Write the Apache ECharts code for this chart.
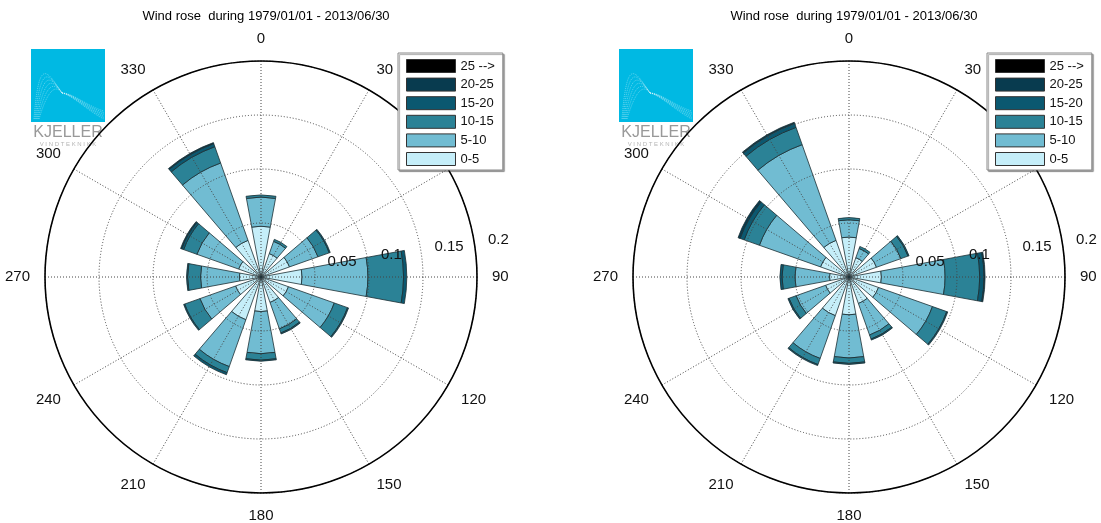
<!DOCTYPE html>
<html>
<head>
<meta charset="utf-8">
<script src="https://cdn.jsdelivr.net/npm/echarts@6/dist/echarts.min.js"></script>
<style>
html, body { margin: 0; padding: 0; background: #fff; }
#main { width: 1101px; height: 523px; }
</style>
</head>
<body>
<div id="main"></div>
<script>
// wind direction sectors (deg) and speed bins (m/s)
var directions = ['0', '30', '60', '90', '120', '150', '180', '210', '240', '270', '300', '330'];
var speedBins = ['0-5', '5-10', '10-15', '15-20', '20-25', '25 -->'];
var legendOrder = ['25 -->', '20-25', '15-20', '10-15', '5-10', '0-5'];
var titleText = 'Wind rose  during 1979/01/01 - 2013/06/30';

// left rose, frequency per direction for each speed bin
var left0_5   = [0.047, 0.023, 0.028, 0.038, 0.027, 0.025, 0.032, 0.042, 0.025, 0.020, 0.022, 0.036];
var left5_10  = [0.027, 0.012, 0.028, 0.061, 0.045, 0.026, 0.039, 0.046, 0.035, 0.036, 0.041, 0.076];
var left10_15 = [0.002, 0.002, 0.011, 0.033, 0.013, 0.004, 0.006, 0.006, 0.015, 0.012, 0.013, 0.016];
var left15_20 = [0, 0, 0.001, 0.003, 0.001, 0.001, 0.001, 0.002, 0.001, 0.001, 0.002, 0.003];
var left20_25 = [0, 0, 0, 0, 0, 0, 0, 0, 0, 0, 0.001, 0.001];
var left25up  = [0, 0, 0, 0, 0, 0, 0, 0, 0, 0, 0, 0];

// right rose
var right0_5   = [0.037, 0.019, 0.027, 0.030, 0.029, 0.026, 0.035, 0.038, 0.023, 0.018, 0.028, 0.036];
var right5_10  = [0.016, 0.009, 0.024, 0.059, 0.053, 0.031, 0.040, 0.042, 0.029, 0.032, 0.060, 0.094];
var right10_15 = [0.002, 0.002, 0.007, 0.032, 0.014, 0.004, 0.005, 0.006, 0.007, 0.012, 0.015, 0.017];
var right15_20 = [0, 0, 0.001, 0.004, 0.001, 0.001, 0.001, 0.001, 0.001, 0.002, 0.004, 0.004];
var right20_25 = [0, 0, 0, 0.001, 0, 0, 0, 0, 0, 0, 0.002, 0.001];
var right25up  = [0, 0, 0, 0, 0, 0, 0, 0, 0, 0, 0, 0];

var FONT = '"Liberation Sans", Arial, sans-serif';
var binColors = ['#c5eef9', '#71bcd2', '#2b8296', '#0b5870', '#083b4f', '#000000'];
var RMAX = 0.2;

var roses = [
    { cx: 261, cy: 277, bins: [left0_5, left5_10, left10_15, left15_20, left20_25, left25up], legendLeft: 398 },
    { cx: 849, cy: 277, bins: [right0_5, right5_10, right10_15, right15_20, right20_25, right25up], legendLeft: 987 }
];

var chart = echarts.init(document.getElementById('main'));

var polar = [], angleAxis = [], radiusAxis = [], series = [], legend = [], title = [], graphic = [];

function logo(x, y) {
    var kids = [{
        type: 'rect', shape: { x: 0, y: 0, width: 74, height: 73 },
        style: { fill: '#00b9e3' }
    }];
    for (var k = 0; k < 6; k++) {
        kids.push({
            type: 'bezierCurve',
            shape: { x1: 3 + k, y1: 70, cpx1: 8 + k * 2, cpy1: 6 + k * 6, cpx2: 16 + k * 2, cpy2: 22 + k * 3, x2: 31, y2: 44 },
            style: { stroke: 'rgba(255,255,255,0.7)', lineWidth: 0.5, lineDash: [1, 1], fill: null }
        });
        kids.push({
            type: 'bezierCurve',
            shape: { x1: 31, y1: 44, cpx1: 42, cpy1: 44 + k * 0.5, cpx2: 58, cpy2: 58 + k, x2: 73, y2: 62 + k * 1.6 },
            style: { stroke: 'rgba(255,255,255,0.7)', lineWidth: 0.5, lineDash: [1, 1], fill: null }
        });
    }
    kids.push({
        type: 'text', x: 37, y: 84,
        style: { text: 'KJELLER', fill: '#999', font: '300 16px ' + FONT, align: 'center', verticalAlign: 'middle' }
    });
    kids.push({
        type: 'text', x: 37, y: 95,
        style: { text: 'V I N D T E K N I K K', fill: '#b5b5b5', font: '6px ' + FONT, align: 'center', verticalAlign: 'middle' }
    });
    return { type: 'group', x: x, y: y, z: 10, children: kids };
}

roses.forEach(function (rose, i) {
    var center = [rose.cx, rose.cy];
    var a = i * 3, b = i * 3 + 1, c = i * 3 + 2;

    // grid polar: circle, dotted rings and spokes, direction labels
    polar.push({ center: center, radius: 216 });
    angleAxis.push({
        polarIndex: a, type: 'value', min: 0, max: 360, interval: 30,
        startAngle: 90, clockwise: true, z: 10,
        axisLine: { lineStyle: { color: '#000', width: 1.6 } },
        axisTick: { show: false },
        axisLabel: {
            margin: 15, color: '#111', fontSize: 15, fontFamily: FONT,
            align: 'center', verticalAlign: 'middle',
            formatter: function (v) { return v === 360 ? '' : String(v); }
        },
        splitLine: { lineStyle: { color: '#444', width: 1, type: [1, 2] } }
    });
    radiusAxis.push({
        polarIndex: a, min: 0, max: RMAX, interval: 0.05, z: 10,
        axisLine: { show: false }, axisTick: { show: false }, axisLabel: { show: false },
        splitLine: { lineStyle: { color: '#444', width: 1, type: [1, 2] } }
    });

    // bar polar: category sectors centred on the directions
    polar.push({ center: center, radius: 216 });
    angleAxis.push({
        polarIndex: b, type: 'category', data: directions, startAngle: 105, clockwise: true,
        axisLine: { show: false }, axisTick: { show: false }, axisLabel: { show: false }, splitLine: { show: false }
    });
    radiusAxis.push({
        polarIndex: b, min: 0, max: RMAX,
        axisLine: { show: false }, axisTick: { show: false }, axisLabel: { show: false }, splitLine: { show: false }
    });

    // label polar: radius tick labels along a slanted axis
    polar.push({ center: center, radius: 216 });
    angleAxis.push({
        polarIndex: c, type: 'value', min: 0, max: 360, startAngle: 8,
        axisLine: { show: false }, axisTick: { show: false }, axisLabel: { show: false }, splitLine: { show: false }
    });
    radiusAxis.push({
        polarIndex: c, min: 0, max: RMAX, interval: 0.05, z: 11,
        axisLine: { show: false }, axisTick: { show: false }, splitLine: { show: false },
        axisLabel: {
            showMinLabel: false, margin: 0, color: '#111', fontSize: 15, fontFamily: FONT,
            align: 'left', verticalAlign: 'bottom', padding: [0, 0, 0, 13]
        }
    });

    for (var s = 0; s < speedBins.length; s++) {
        series.push({
            type: 'bar', name: speedBins[s], coordinateSystem: 'polar', polarIndex: b,
            stack: 'rose' + i, barCategoryGap: '30%', z: 1,
            itemStyle: { color: binColors[s], borderColor: '#1c2e33', borderWidth: 0.8 },
            data: rose.bins[s].map(function (v) { return v > 0 ? v : null; })
        });
    }

    legend.push({
        orient: 'vertical', left: rose.legendLeft, top: 53, z: 20,
        data: legendOrder, itemWidth: 49, itemHeight: 13, itemGap: 4.6,
        padding: [6, 8, 4, 8], icon: 'rect',
        backgroundColor: '#fff', borderColor: '#8a8a8a', borderWidth: 1,
        shadowColor: 'rgba(0,0,0,0.35)', shadowOffsetX: 1.5, shadowOffsetY: 1.5, shadowBlur: 1,
        itemStyle: { borderColor: '#333', borderWidth: 1 },
        textStyle: { color: '#111', fontSize: 13, fontFamily: FONT, lineHeight: 13 },
        selectedMode: false
    });

    title.push({
        text: titleText, left: rose.cx, top: 5, textAlign: 'center',
        textStyle: { color: '#000', fontSize: 13, fontWeight: 'normal', fontFamily: FONT }
    });

    graphic.push(logo(rose.cx - 230, 49));
});

chart.setOption({
    backgroundColor: '#fff',
    animation: false,
    title: title,
    legend: legend,
    polar: polar,
    angleAxis: angleAxis,
    radiusAxis: radiusAxis,
    series: series,
    graphic: graphic
});
</script>
</body>
</html>
